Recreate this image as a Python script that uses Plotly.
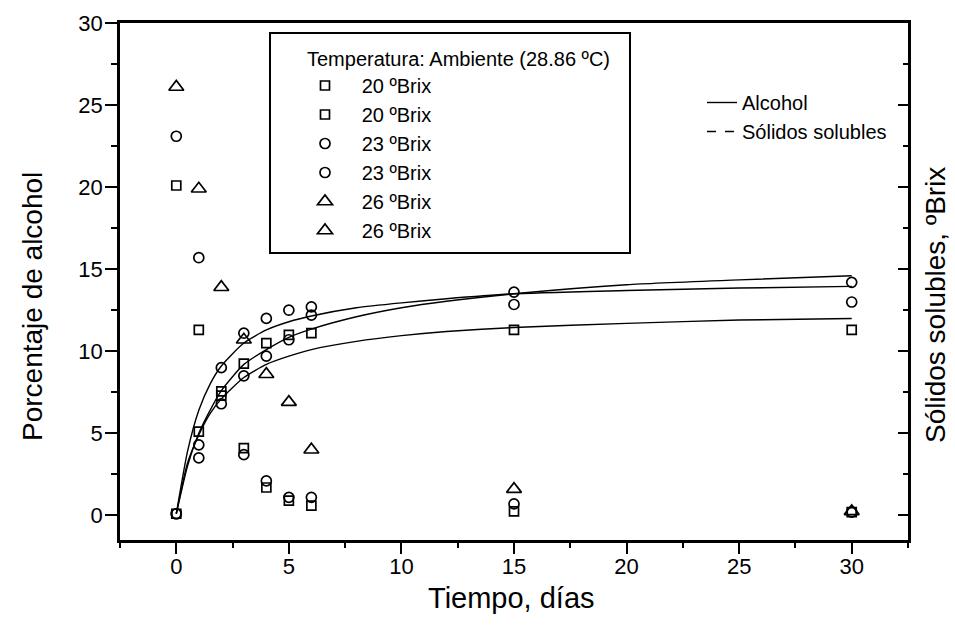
import plotly.graph_objects as go

# ---------------- data ----------------
days = [0, 1, 2, 3, 4, 5, 6, 15, 30]

# 20 ºBrix (squares)
alc20 = [0.1, 5.1, 7.55, 9.25, 10.5, 11.0, 11.1, 11.3, 11.3]
sol20 = [20.1, 11.3, 7.3, 4.1, 1.7, 0.9, 0.6, 0.25, 0.2]

# 23 ºBrix (circles)
alc23a = [0.1, 4.3, 9.0, 11.1, 12.0, 12.5, 12.7, 13.6, 14.2]
alc23b = [0.1, 3.5, 6.8, 8.5, 9.7, 10.7, 12.2, 12.85, 13.0]
sol23 = [23.1, 15.7, None, 3.7, 2.1, 1.1, 1.1, 0.7, 0.2]

# 26 ºBrix (triangles)
alc26 = [None, None, None, None, None, None, None, None, None]
sol26 = [26.1, 19.9, 13.9, 10.7, 8.6, 6.9, 4.0, 1.6, 0.25]

# fitted alcohol curves
fit_t = [0, 0.5, 1, 1.5, 2, 3, 4, 5, 6, 8, 10, 12, 15, 20, 25, 30]
fit_low = [0.1, 3.2, 4.9, 6.2, 7.1, 8.4, 9.2, 9.7, 10.1, 10.6, 10.95, 11.2, 11.45, 11.7, 11.9, 12.0]
fit_fast = [0.1, 3.9, 6.4, 8.0, 9.1, 10.5, 11.3, 11.8, 12.15, 12.65, 12.95, 13.2, 13.5, 13.7, 13.85, 13.95]
fit_high = [0.1, 3.0, 5.0, 6.4, 7.6, 9.2, 10.1, 10.85, 11.35, 12.1, 12.65, 13.05, 13.5, 14.05, 14.35, 14.6]

legend_title = "Temperatura: Ambiente (28.86 ºC)"
names = ["20 ºBrix", "20 ºBrix", "23 ºBrix", "23 ºBrix", "26 ºBrix", "26 ºBrix"]
x_title = "Tiempo, días"
y_title = "Porcentaje de alcohol"
y2_title = "Sólidos solubles, ºBrix"

FONT = "Liberation Sans, Arial, sans-serif"
PAD = "\u00a0\u00a0\u00a0"

# plot-area geometry (pixels)
L, R, T, B = 120, 908, 23, 540
PW, PH = R - L, B - T


def px(xp):
    return (xp - L) / PW


def py(yp):
    return (B - yp) / PH


fig = go.Figure()

# fitted curves
curve_line = dict(color="black", width=1.4, shape="spline", smoothing=0.6)
fig.add_trace(go.Scatter(x=fit_t, y=fit_low, mode="lines", line=curve_line,
                         name="Alcohol", legend="legend2", legendgroup="l1",
                         showlegend=True, hoverinfo="skip"))
fig.add_trace(go.Scatter(x=fit_t, y=fit_fast, mode="lines", line=curve_line,
                         showlegend=False, hoverinfo="skip"))
fig.add_trace(go.Scatter(x=fit_t, y=fit_high, mode="lines", line=curve_line,
                         showlegend=False, hoverinfo="skip"))
fig.add_trace(go.Scatter(x=[None], y=[None], mode="lines",
                         line=dict(color="black", width=1.4, dash="dash"),
                         name="Sólidos solubles", legend="legend2", legendgroup="l2",
                         showlegend=True))

mk_line = dict(color="black", width=1.7)
sq = dict(symbol="square-open", size=9, color="black", line=mk_line)
ci = dict(symbol="circle-open", size=10, color="black", line=mk_line)
tr = dict(symbol="triangle-up-open", size=13, color="black", line=mk_line)

series = [
    (days, alc20, sq, "y"),
    (days, sol20, sq, "y2"),
    (days + days, alc23a + alc23b, ci, "y"),
    (days, sol23, ci, "y2"),
    (days, alc26, tr, "y"),
    (days, sol26, tr, "y2"),
]
for i, (xs, ys, m, ax) in enumerate(series):
    fig.add_trace(go.Scatter(x=xs, y=ys, mode="markers", marker=m, yaxis=ax,
                             name=PAD + names[i], legend="legend",
                             legendgroup="g%d" % i, showlegend=True))

axis_common = dict(
    showline=True, linecolor="black", linewidth=2.5,
    showgrid=False, zeroline=False,
    tickfont=dict(family=FONT, size=22, color="black"),
    tickcolor="black", tickwidth=2,
)

fig.update_layout(
    width=955, height=627,
    margin=dict(l=L, r=955 - R, t=T, b=627 - B),
    plot_bgcolor="white", paper_bgcolor="white",
    font=dict(family=FONT, color="black", size=20),
    xaxis=dict(range=[-2.5, 32.5], dtick=5, tick0=0, ticks="outside", ticklen=11,
               mirror=True, ticklabelstandoff=-6,
               minor=dict(dtick=2.5, tick0=0, ticks="outside", ticklen=5,
                          tickcolor="black", tickwidth=2),
               **axis_common),
    yaxis=dict(range=[-1.5, 30], dtick=5, tick0=0, ticks="outside", ticklen=12,
               ticklabelstandoff=-2,
               minor=dict(dtick=2.5, tick0=0, ticks="outside", ticklen=6,
                          tickcolor="black", tickwidth=2),
               **axis_common),
    yaxis2=dict(range=[-1.5, 30], dtick=5, tick0=0, ticks="inside", ticklen=10,
                overlaying="y", side="right", showticklabels=False,
                minor=dict(dtick=2.5, tick0=0, ticks="inside", ticklen=5,
                           tickcolor="black", tickwidth=2),
                **axis_common),
    legend=dict(x=px(305), y=py(40), xanchor="left", yanchor="top",
                bgcolor="rgba(0,0,0,0)", borderwidth=0,
                font=dict(family=FONT, size=20), tracegroupgap=0,
                title=dict(text=legend_title, font=dict(family=FONT, size=20))),
    legend2=dict(x=px(702), y=py(83), xanchor="left", yanchor="top",
                 bgcolor="rgba(0,0,0,0)", borderwidth=0,
                 font=dict(family=FONT, size=20), tracegroupgap=0),
    shapes=[dict(type="rect", xref="paper", yref="paper",
                 x0=px(270), x1=px(630), y0=py(253), y1=py(33),
                 line=dict(color="black", width=2))],
    annotations=[
        dict(text=x_title, xref="paper", yref="paper", x=px(511), y=py(598),
             xanchor="center", yanchor="middle", showarrow=False,
             font=dict(family=FONT, size=29)),
        dict(text=y_title, xref="paper", yref="paper", x=px(32), y=py(307),
             xanchor="center", yanchor="middle", showarrow=False, textangle=-90,
             font=dict(family=FONT, size=28)),
        dict(text=y2_title, xref="paper", yref="paper", x=px(935), y=py(305),
             xanchor="center", yanchor="middle", showarrow=False, textangle=-90,
             font=dict(family=FONT, size=28)),
    ],
)

fig.write_html("out.html")
